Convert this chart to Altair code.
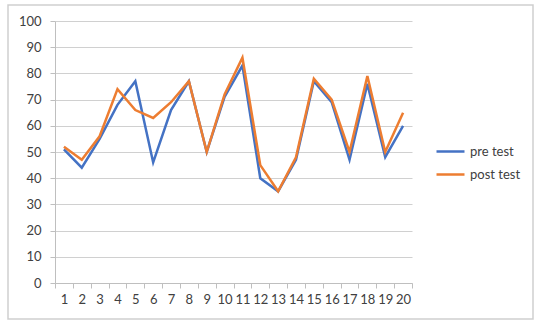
import altair as alt
import pandas as pd

categories = list(range(1, 21))
pre_test = [51, 44, 55, 68, 77, 46, 66, 77, 50, 71, 83, 40, 35, 47, 77, 69, 47, 76, 48, 60]
post_test = [52, 47, 56, 74, 66, 63, 69, 77, 50, 72, 86, 45, 35, 48, 78, 70, 50, 79, 50, 65]
series_names = ["pre test", "post test"]
series_colors = ["#4472C4", "#ED7D31"]

rows = []
for name, vals in zip(series_names, [pre_test, post_test]):
    for c, v in zip(categories, vals):
        rows.append({"cat": c, "value": v, "series": name})
df = pd.DataFrame(rows)

FONT = "Lato"
TXT = "#404040"

lines = alt.Chart(df).mark_line(strokeWidth=2.5).encode(
    x=alt.X("cat:O", bandPosition=0.5,
            scale=alt.Scale(type="band", paddingInner=0, paddingOuter=0),
            axis=alt.Axis(title=None, labelAngle=0, tickBand="extent", grid=False,
                          domainColor="#bfbfbf", tickColor="#bfbfbf", tickSize=5,
                          labelPadding=5, labelFont=FONT, labelFontSize=13,
                          labelColor=TXT)),
    y=alt.Y("value:Q", scale=alt.Scale(domain=[0, 100], nice=False),
            axis=alt.Axis(title=None, values=list(range(0, 101, 10)), grid=True,
                          gridColor="#d0d0d0", domainColor="#bfbfbf",
                          tickColor="#bfbfbf", tickSize=5, labelPadding=9,
                          labelFont=FONT, labelFontSize=13, labelColor=TXT)),
    color=alt.Color("series:N",
                    scale=alt.Scale(domain=series_names, range=series_colors),
                    sort=series_names,
                    legend=alt.Legend(title=None, orient="none", legendX=380,
                                      legendY=115, symbolType="stroke",
                                      symbolSize=784, symbolStrokeWidth=2.5,
                                      labelFont=FONT, labelFontSize=13,
                                      labelColor=TXT, labelOffset=4,
                                      rowPadding=-2)),
    order=alt.Order("cat:Q"),
)

border = alt.Chart(pd.DataFrame({"a": [0]})).mark_rect(
    fillOpacity=0, stroke="#cfcfcf", strokeWidth=1.5
).encode(x=alt.value(-47), x2=alt.value(478), y=alt.value(-16), y2=alt.value(298))

chart = alt.layer(border, lines).properties(
    width=357, height=262,
    autosize=alt.AutoSizeParams(type="none"),
    padding={"left": 55, "top": 21, "right": 128, "bottom": 43},
    background="white",
).configure_view(stroke=None)

chart.save("out.html", embed_options={"renderer": "svg", "actions": False})
